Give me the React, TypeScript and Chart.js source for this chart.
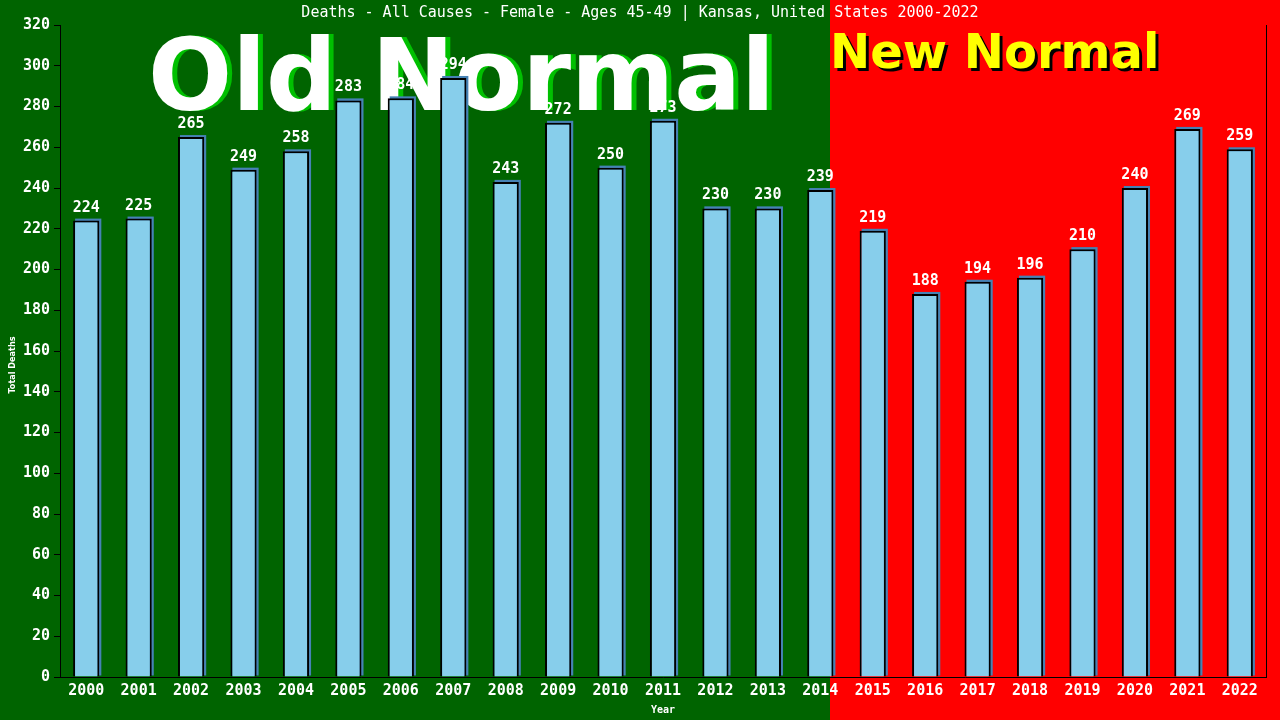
import React, { useEffect, useRef } from 'react';
import { Chart, registerables, Plugin } from 'chart.js';

Chart.register(...registerables);

const years = [
  '2000', '2001', '2002', '2003', '2004', '2005', '2006', '2007', '2008', '2009', '2010', '2011',
  '2012', '2013', '2014', '2015', '2016', '2017', '2018', '2019', '2020', '2021', '2022'
];
const deaths = [
  224, 225, 265, 249, 258, 283, 284, 294, 243, 272, 250, 273,
  230, 230, 239, 219, 188, 194, 196, 210, 240, 269, 259
];
const chartTitle = 'Deaths - All Causes - Female - Ages 45-49 | Kansas, United States 2000-2022';
const oldLabel = 'Old Normal';
const newLabel = 'New Normal';
const yTitle = 'Total Deaths';

const MONO = '"DejaVu Sans Mono", monospace';

// backgrounds + big banner words, drawn under everything
const backdrop: Plugin<'bar'> = {
  id: 'backdrop',
  beforeDraw(chart) {
    const { ctx, width, height } = chart;
    const split = width * (830 / 1280);
    ctx.save();
    ctx.fillStyle = '#006400';
    ctx.fillRect(0, 0, split, height);
    ctx.fillStyle = '#ff0000';
    ctx.fillRect(split, 0, width - split, height);

    ctx.textBaseline = 'alphabetic';
    ctx.textAlign = 'left';
    ctx.font = 'bold 99px "DejaVu Sans", sans-serif';
    ctx.fillStyle = '#00c000';
    ctx.fillText(oldLabel, 153, 110);
    ctx.fillStyle = '#ffffff';
    ctx.fillText(oldLabel, 148, 110);

    ctx.font = 'bold 48px "DejaVu Sans", sans-serif';
    ctx.fillStyle = '#000000';
    ctx.fillText(newLabel, split + 3, 71);
    ctx.fillStyle = '#ffff00';
    ctx.fillText(newLabel, split, 68);

    ctx.font = `15px ${MONO}`;
    ctx.fillStyle = '#ffffff';
    ctx.textAlign = 'center';
    ctx.textBaseline = 'middle';
    ctx.fillText(chartTitle, width / 2, 13);

    // rotated y axis title
    ctx.translate(13, 365);
    ctx.rotate(-Math.PI / 2);
    ctx.font = 'bold 9px "DejaVu Sans Condensed", sans-serif';
    ctx.fillText(yTitle, 0, 0);
    ctx.restore();
  }
};

// steelblue edge behind the bars, value labels and right frame
const barExtras: Plugin<'bar'> = {
  id: 'barExtras',
  beforeDatasetsDraw(chart) {
    const { ctx } = chart;
    ctx.save();
    ctx.fillStyle = '#4682b4';
    chart.getDatasetMeta(0).data.forEach((el) => {
      const bar = el as unknown as { x: number; y: number; base: number; width: number };
      ctx.fillRect(bar.x - bar.width / 2 + 2, bar.y - 2, bar.width, bar.base - bar.y + 1);
    });
    ctx.restore();
  },
  afterDatasetsDraw(chart) {
    const { ctx, chartArea } = chart;
    ctx.save();
    ctx.font = `bold 15px ${MONO}`;
    ctx.fillStyle = '#ffffff';
    ctx.textAlign = 'center';
    ctx.textBaseline = 'alphabetic';
    chart.getDatasetMeta(0).data.forEach((bar, i) => {
      ctx.fillText(String(deaths[i]), bar.x, bar.y - 9);
    });

    ctx.strokeStyle = '#000000';
    ctx.lineWidth = 1;
    ctx.beginPath();
    ctx.moveTo(chartArea.right + 0.5, chartArea.top);
    ctx.lineTo(chartArea.right + 0.5, chartArea.bottom);
    ctx.stroke();
    ctx.restore();
  }
};

const App: React.FC = () => {
  const chartRef = useRef<HTMLCanvasElement | null>(null);
  const chartInstance = useRef<Chart | null>(null);

  useEffect(() => {
    if (!chartRef.current) return;
    if (chartInstance.current) chartInstance.current.destroy();
    const ctx = chartRef.current.getContext('2d');
    if (!ctx) return;

    chartInstance.current = new Chart(ctx, {
      type: 'bar',
      data: {
        labels: years,
        datasets: [
          {
            data: deaths,
            backgroundColor: '#87ceeb',
            borderColor: '#000000',
            borderWidth: 2,
            barPercentage: 0.5,
            categoryPercentage: 1
          }
        ]
      },
      options: {
        animation: false,
        responsive: true,
        maintainAspectRatio: false,
        layout: { padding: { top: 25, right: 14, left: 0, bottom: 0 } },
        plugins: {
          legend: { display: false },
          title: { display: false },
          tooltip: { enabled: false }
        },
        scales: {
          x: {
            grid: { display: false, drawTicks: false },
            border: { color: '#000000', width: 1 },
            ticks: {
              color: '#ffffff',
              font: { family: MONO, size: 15, weight: 'bold' },
              padding: 5,
              maxRotation: 0,
              autoSkip: false
            },
            title: {
              display: true,
              text: 'Year',
              color: '#ffffff',
              font: { family: MONO, size: 10, weight: 'bold' },
              padding: { top: 0, bottom: 4 }
            },
            afterFit(scale) {
              scale.height = 43;
            }
          },
          y: {
            min: 0,
            max: 320,
            grid: {
              display: true,
              drawOnChartArea: false,
              drawTicks: true,
              tickLength: 6,
              color: '#000000'
            },
            border: { color: '#000000', width: 1 },
            ticks: {
              stepSize: 20,
              color: '#ffffff',
              font: { family: MONO, size: 15, weight: 'bold' },
              padding: 4
            },
            afterFit(scale) {
              scale.width = 60;
            }
          }
        }
      },
      plugins: [backdrop, barExtras]
    });

    return () => {
      if (chartInstance.current) {
        chartInstance.current.destroy();
        chartInstance.current = null;
      }
    };
  }, []);

  return (
    <div style={{ position: 'fixed', left: 0, top: 0, width: '1280px', height: '720px' }}>
      <canvas ref={chartRef} />
    </div>
  );
};

export default App;
